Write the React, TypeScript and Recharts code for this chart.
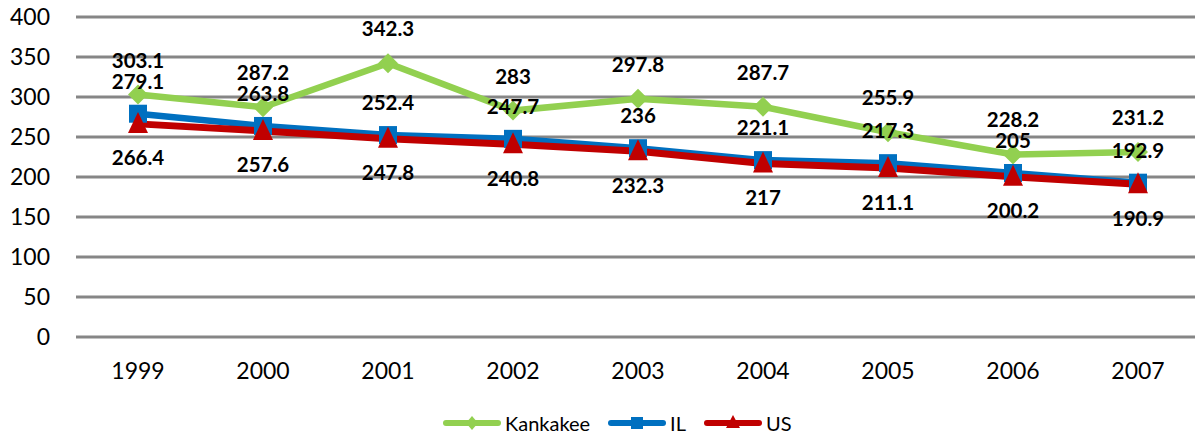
import React from 'react';
import { LineChart, Line, XAxis, YAxis, CartesianGrid, Legend, LabelList } from 'recharts';

const years = ['1999', '2000', '2001', '2002', '2003', '2004', '2005', '2006', '2007'];
const kankakee = [303.1, 287.2, 342.3, 283, 297.8, 287.7, 255.9, 228.2, 231.2];
const illinois = [279.1, 263.8, 252.4, 247.7, 236, 221.1, 217.3, 205, 192.9];
const us = [266.4, 257.6, 247.8, 240.8, 232.3, 217, 211.1, 200.2, 190.9];
const yTicks = [0, 50, 100, 150, 200, 250, 300, 350, 400];

const GREEN = '#92D050';
const BLUE = '#0070C0';
const RED = '#C00000';
const FONT = 'Lato, "Open Sans", sans-serif';

const chartData = years.map((year, i) => ({
  year,
  kankakee: kankakee[i],
  il: illinois[i],
  us: us[i],
}));

const Diamond = (props: any) => {
  const { cx, cy, index } = props;
  if (cx == null || cy == null) return null;
  return <path key={`d-${index}`} d={`M${cx},${cy - 10}L${cx + 10},${cy}L${cx},${cy + 10}L${cx - 10},${cy}Z`} fill={GREEN} />;
};

const Square = (props: any) => {
  const { cx, cy, index } = props;
  if (cx == null || cy == null) return null;
  return <rect key={`s-${index}`} x={cx - 9} y={cy - 9} width={18} height={18} fill={BLUE} />;
};

const Triangle = (props: any) => {
  const { cx, cy, index } = props;
  if (cx == null || cy == null) return null;
  return <path key={`t-${index}`} d={`M${cx},${cy - 12}L${cx + 10},${cy + 9}L${cx - 10},${cy + 9}Z`} fill={RED} />;
};

const legendItems = [
  { name: 'Kankakee', color: GREEN, shape: 'diamond' },
  { name: 'IL', color: BLUE, shape: 'square' },
  { name: 'US', color: RED, shape: 'triangle' },
];

const LegendContent = () => (
  <div style={{ display: 'flex', alignItems: 'center', paddingLeft: 443, fontFamily: FONT, fontSize: 20, color: '#000' }}>
    {legendItems.map((item) => (
      <div key={item.name} style={{ display: 'flex', alignItems: 'center', marginRight: 18 }}>
        <svg width={58} height={20} style={{ marginRight: 4 }}>
          <line x1={3} y1={10} x2={55} y2={10} stroke={item.color} strokeWidth={6} strokeLinecap="round" />
          {item.shape === 'diamond' && <path d="M29,3L35,10L29,17L23,10Z" fill={item.color} />}
          {item.shape === 'square' && <rect x={23} y={4} width={12} height={12} fill={item.color} />}
          {item.shape === 'triangle' && <path d="M29,2L36,15L22,15Z" fill={item.color} />}
        </svg>
        <span>{item.name}</span>
      </div>
    ))}
  </div>
);

const labelStyle = { fontFamily: FONT, fontWeight: 700, fontSize: 20.5, fill: '#000' };

export default function App() {
  return (
    <div style={{ position: 'absolute', left: 0, top: 0, width: 1195, height: 438, overflow: 'hidden', background: '#fff' }}>
      <LineChart width={1201} height={438} data={chartData} margin={{ top: 17, right: 0, bottom: 11, left: 0 }}>
        <CartesianGrid vertical={false} stroke="#868686" strokeWidth={3} />
        <XAxis
          dataKey="year"
          axisLine={false}
          tickLine={false}
          tickSize={0}
          tickMargin={26}
          height={50}
          padding={{ left: 62, right: 63 }}
          tick={{ fontFamily: FONT, fontSize: 23, fill: '#000' }}
        />
        <YAxis
          domain={[0, 400]}
          ticks={yTicks}
          axisLine={false}
          tickLine={false}
          tickSize={0}
          tickMargin={26}
          width={76}
          tick={{ fontFamily: FONT, fontSize: 23, fill: '#000' }}
        />
        <Legend
          verticalAlign="bottom"
          height={40}
          content={<LegendContent />}
          wrapperStyle={{ top: 411, left: 0, width: 1195 }}
        />
        <Line dataKey="kankakee" name="Kankakee" stroke={GREEN} strokeWidth={6.5} dot={<Diamond />} isAnimationActive={false}>
          <LabelList dataKey="kankakee" position="top" offset={27} style={labelStyle} />
        </Line>
        <Line dataKey="il" name="IL" stroke={BLUE} strokeWidth={6.5} dot={<Square />} isAnimationActive={false}>
          <LabelList dataKey="il" position="top" offset={25} style={labelStyle} />
        </Line>
        <Line dataKey="us" name="US" stroke={RED} strokeWidth={7} dot={<Triangle />} isAnimationActive={false}>
          <LabelList dataKey="us" position="bottom" offset={27} style={labelStyle} />
        </Line>
      </LineChart>
    </div>
  );
}
